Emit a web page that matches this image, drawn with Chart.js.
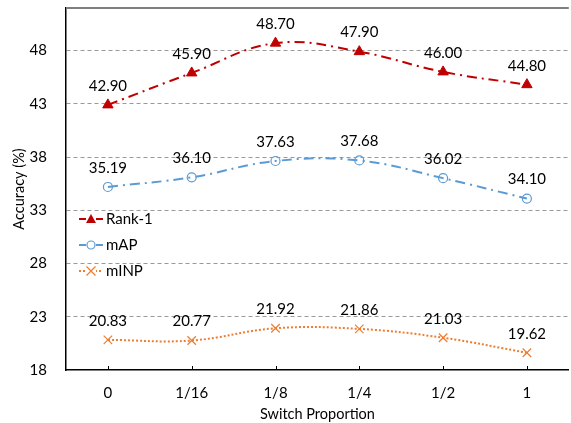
<!DOCTYPE html>
<html>
<head>
<meta charset="utf-8">
<script src="https://cdn.jsdelivr.net/npm/chart.js@4.4.1/dist/chart.umd.min.js"></script>
<style>
  html, body { margin: 0; padding: 0; background: #fff; overflow: hidden; }
  #wrap { width: 571px; height: 423px; overflow: hidden; }
  canvas { display: block; }
</style>
</head>
<body>
<div id="wrap"><canvas id="chart" width="576" height="423"></canvas></div>
<script>
const categories = ['0', '1/16', '1/8', '1/4', '1/2', '1'];
const rank1 = [42.90, 45.90, 48.70, 47.90, 46.00, 44.80];
const mAP = [35.19, 36.10, 37.63, 37.68, 36.02, 34.10];
const mINP = [20.83, 20.77, 21.92, 21.86, 21.03, 19.62];
const yTicks = [18, 23, 28, 33, 38, 43, 48];

const FONT = 'Lato, "Noto Sans", sans-serif';

// value labels above each point
const valueLabels = {
  id: 'valueLabels',
  afterDatasetsDraw(chart) {
    const ctx = chart.ctx;
    ctx.save();
    ctx.font = '15px ' + FONT;
    ctx.fillStyle = '#000';
    ctx.textAlign = 'center';
    ctx.textBaseline = 'middle';
    chart.data.datasets.forEach((ds, i) => {
      chart.getDatasetMeta(i).data.forEach((pt, j) => {
        ctx.fillText(ds.data[j].toFixed(2), pt.x, pt.y - 19);
      });
    });
    ctx.restore();
  }
};

// top frame line, inner x ticks and the in-plot legend
const frame = {
  id: 'frame',
  afterDraw(chart) {
    const ctx = chart.ctx;
    const a = chart.chartArea;
    ctx.save();
    ctx.strokeStyle = '#7f7f7f';
    ctx.lineWidth = 2;
    ctx.beginPath();
    ctx.moveTo(a.left, a.top);
    ctx.lineTo(a.right, a.top);
    ctx.stroke();

    const xs = chart.scales.x;
    ctx.strokeStyle = '#000';
    ctx.lineWidth = 1;
    categories.forEach((_, i) => {
      const x = Math.round(xs.getPixelForValue(i)) + 0.5;
      ctx.beginPath();
      ctx.moveTo(x, a.bottom);
      ctx.lineTo(x, a.bottom - 4);
      ctx.stroke();
    });

    // legend
    const x0 = a.left + 13;
    chart.data.datasets.forEach((ds, i) => {
      const y = 219 + i * 26;
      ctx.strokeStyle = ds.borderColor;
      ctx.lineWidth = 2;
      ctx.setLineDash(ds.borderDash.length === 2 ? [2, 2] : [7, 4, 2, 4]);
      ctx.beginPath();
      ctx.moveTo(x0, y);
      ctx.lineTo(x0 + 24, y);
      ctx.stroke();
      ctx.setLineDash([]);
      const mx = x0 + 12;
      ctx.lineWidth = 1.2;
      if (ds.pointStyle === 'triangle') {
        ctx.fillStyle = ds.borderColor;
        ctx.beginPath();
        ctx.moveTo(mx, y - 5);
        ctx.lineTo(mx + 5, y + 4);
        ctx.lineTo(mx - 5, y + 4);
        ctx.closePath();
        ctx.fill();
      } else if (ds.pointStyle === 'circle') {
        ctx.fillStyle = '#fff';
        ctx.beginPath();
        ctx.arc(mx, y, 4, 0, Math.PI * 2);
        ctx.fill();
        ctx.stroke();
      } else {
        ctx.fillStyle = '#fff';
        ctx.fillRect(mx - 5, y - 5, 10, 10);
        ctx.beginPath();
        ctx.moveTo(mx - 4.5, y - 4.5); ctx.lineTo(mx + 4.5, y + 4.5);
        ctx.moveTo(mx + 4.5, y - 4.5); ctx.lineTo(mx - 4.5, y + 4.5);
        ctx.stroke();
      }
      ctx.fillStyle = '#000';
      ctx.font = '15px ' + FONT;
      ctx.textAlign = 'left';
      ctx.textBaseline = 'middle';
      ctx.fillText(ds.label, x0 + 27, y);
    });
    ctx.restore();
  }
};

new Chart(document.getElementById('chart'), {
  type: 'line',
  data: {
    labels: categories,
    datasets: [
      {
        label: 'Rank-1',
        data: rank1,
        borderColor: '#C00000',
        backgroundColor: '#C00000',
        borderWidth: 2,
        borderDash: [10, 5, 2, 5],
        pointStyle: 'triangle',
        pointRadius: 6,
        pointBorderWidth: 1,
        pointBackgroundColor: '#C00000',
        tension: 0.4,
      },
      {
        label: 'mAP',
        data: mAP,
        borderColor: '#5B9BD5',
        backgroundColor: '#5B9BD5',
        borderWidth: 2,
        borderDash: [10, 5, 2, 5],
        pointStyle: 'circle',
        pointRadius: 4.5,
        pointBorderWidth: 1.2,
        pointBackgroundColor: 'rgba(255,255,255,0)',
        tension: 0.4,
      },
      {
        label: 'mINP',
        data: mINP,
        borderColor: '#ED7D31',
        backgroundColor: '#ED7D31',
        borderWidth: 2,
        borderDash: [2, 2],
        pointStyle: 'crossRot',
        pointRadius: 6,
        pointBorderWidth: 1.2,
        tension: 0.4,
      },
    ],
  },
  options: {
    responsive: false,
    animation: false,
    layout: { padding: { top: 8, right: 2, left: 0, bottom: 0 } },
    plugins: { legend: { display: false }, tooltip: { enabled: false } },
    scales: {
      x: {
        offset: true,
        grid: { display: false, drawTicks: false },
        border: { display: true, color: '#000', width: 1.5 },
        ticks: { padding: 14, color: '#000', font: { family: FONT, size: 15 } },
        title: { display: true, text: 'Switch Proportion', color: '#000', padding: 0, font: { family: FONT, size: 14.5 } },
        afterFit(scale) {
          scale.height = 53;
          scale.paddingLeft = 0;
          scale.paddingRight = 0;
        },
      },
      y: {
        min: 18,
        max: 52,
        afterBuildTicks(scale) { scale.ticks = yTicks.map(v => ({ value: v })); },
        grid: {
          drawTicks: false,
          color: ctx => ctx.tick && ctx.tick.value === 18 ? 'rgba(0,0,0,0)' : '#9a9a9a',
          lineWidth: 1,
        },
        border: { display: true, color: '#000', width: 1.5, dash: [4, 3] },
        ticks: { padding: 19, color: '#000', font: { family: FONT, size: 15 } },
        title: { display: true, text: 'Accuracy (%)', color: '#000', padding: { top: 11, bottom: 0 }, font: { family: FONT, size: 14.5 } },
        afterFit(scale) {
          scale.width = 66;
          scale.paddingTop = 0;
          scale.paddingBottom = 0;
        },
      },
    },
  },
  plugins: [valueLabels, frame],
});
</script>
</body>
</html>
